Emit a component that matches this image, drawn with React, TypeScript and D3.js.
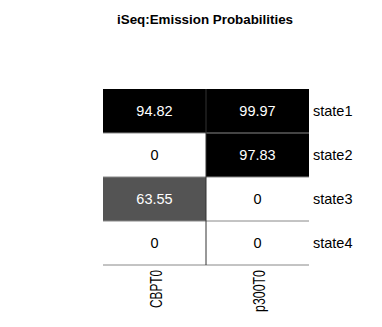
import React from "react";
import * as d3 from "d3";

const title = "iSeq:Emission Probabilities";
const columns = ["CBPT0", "p300T0"];
const rows = ["state1", "state2", "state3", "state4"];
const cbpValues = [94.82, 0, 63.55, 0];
const p300Values = [99.97, 97.83, 0, 0];

export default function App() {
  const W = 382, H = 327;
  const left = 103, right = 309, top = 89, bottom = 265;
  const x = d3.scaleBand<string>().domain(columns).range([left, right]);
  const y = d3.scaleBand<string>().domain(rows).range([top, bottom]);
  const color = d3.scaleLinear<string>().domain([0, 95]).range(["#ffffff", "#000000"]).clamp(true);
  const series = [cbpValues, p300Values];
  const cells: { c: string; r: string; v: number }[] = [];
  columns.forEach((c, ci) => rows.forEach((r, ri) => cells.push({ c, r, v: series[ci][ri] })));
  const font = "Liberation Sans, Arial, Helvetica, sans-serif";
  const fmt = (v: number) => (v === 0 ? "0" : v.toFixed(2));
  const colLen: Record<string, number> = { CBPT0: 38, p300T0: 42 };
  return (
    <svg width={W} height={H} style={{ position: "absolute", left: 0, top: 0 }} fontFamily={font}>
      <rect width={W} height={H} fill="#fff" />
      <text x={205} y={24} textAnchor="middle" fontWeight="bold" fontSize={12.5}
        textLength={176} lengthAdjust="spacingAndGlyphs">{title}</text>
      {cells.map((d, i) => (
        <rect key={"r" + i} x={x(d.c)} y={y(d.r)} width={x.bandwidth()} height={y.bandwidth()} fill={color(d.v)} />
      ))}
      {rows.slice(1).concat(["end"]).map((r, i) => {
        const yy = r === "end" ? bottom : (y(r) as number);
        return <line key={"h" + i} x1={left} x2={right} y1={yy} y2={yy} stroke="#888" strokeWidth={1} />;
      })}
      <line x1={x(columns[1])} x2={x(columns[1])} y1={top} y2={bottom} stroke="#333" strokeWidth={1} />
      {cells.map((d, i) => (
        <text key={"t" + i} x={(x(d.c) as number) + x.bandwidth() / 2} y={(y(d.r) as number) + y.bandwidth() / 2}
          dy="0.36em" textAnchor="middle" fontSize={14.5} fill={d.v > 50 ? "#fff" : "#000"}>{fmt(d.v)}</text>
      ))}
      {rows.map((r) => (
        <text key={r} x={313} y={(y(r) as number) + y.bandwidth() / 2} dy="0.36em" fontSize={14.5}>{r}</text>
      ))}
      {columns.map((c) => {
        const cx = (x(c) as number) + x.bandwidth() / 2;
        return (
          <text key={c} transform={`translate(${cx + 7},270) rotate(-90)`} textAnchor="end" fontSize={17}
            textLength={colLen[c]} lengthAdjust="spacingAndGlyphs">{c}</text>
        );
      })}
    </svg>
  );
}
